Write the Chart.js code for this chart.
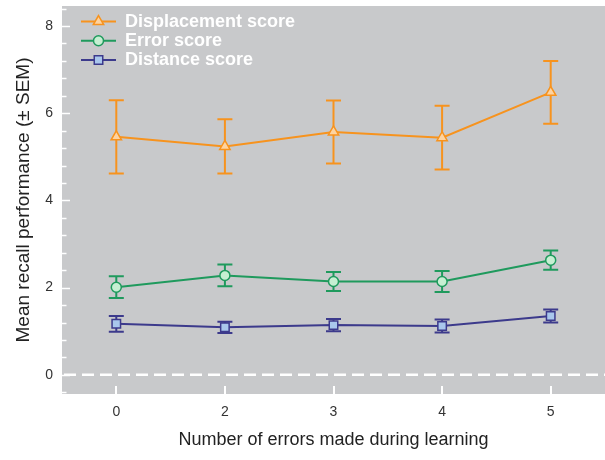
<!DOCTYPE html>
<html>
<head>
<meta charset="utf-8">
<script src="https://cdn.jsdelivr.net/npm/chart.js@4"></script>
<style>
  html, body { margin: 0; padding: 0; background: #ffffff; }
  #wrap { width: 605px; height: 460px; }
</style>
</head>
<body>
<div id="wrap"><canvas id="c" width="605" height="460"></canvas></div>
<script>
// Number of errors made during learning (x categories)
const categories = ['0', '2', '3', '4', '5'];

// Mean recall scores and their SEM per category
const displacement = [5.46, 5.24, 5.57, 5.44, 6.48];
const displacementSem = [0.84, 0.62, 0.72, 0.73, 0.72];
const errorScore = [2.01, 2.28, 2.14, 2.14, 2.63];
const errorSem = [0.25, 0.25, 0.22, 0.24, 0.22];
const distance = [1.17, 1.09, 1.14, 1.12, 1.35];
const distanceSem = [0.18, 0.13, 0.14, 0.15, 0.15];

// Labelled y ticks; unlabelled minor ticks sit every 0.4 in between
const yTickLabels = [0, 2, 4, 6, 8];
const yMinorStep = 0.4;

const FONT = "'Liberation Sans', Arial, Helvetica, sans-serif";
const PLOT_BG = '#c8c9cb';

const semByDataset = [displacementSem, errorSem, distanceSem];

// Grey panel, zero reference line and white inside ticks
const panelPlugin = {
  id: 'panel',
  beforeDraw(chart) {
    const { ctx, chartArea: a } = chart;
    ctx.save();
    ctx.fillStyle = PLOT_BG;
    ctx.fillRect(a.left, a.top, a.right - a.left, a.bottom - a.top);
    ctx.restore();
  },
  beforeDatasetsDraw(chart) {
    const { ctx, chartArea: a, scales } = chart;
    const y = scales.y, x = scales.x;
    ctx.save();
    ctx.strokeStyle = '#ffffff';
    // dashed zero line
    const y0 = y.getPixelForValue(0);
    ctx.lineWidth = 2.5;
    ctx.setLineDash([12, 6]);
    ctx.beginPath();
    ctx.moveTo(a.left + 2, y0);
    ctx.lineTo(a.right, y0);
    ctx.stroke();
    ctx.setLineDash([]);
    // y ticks (major and minor)
    ctx.lineWidth = 1.5;
    for (let k = -1; ; k++) {
      const v = Math.round(k * yMinorStep * 100) / 100;
      if (v > y.max) break;
      if (v < y.min) continue;
      const py = Math.round(y.getPixelForValue(v)) + 0.5;
      const major = yTickLabels.includes(v);
      ctx.beginPath();
      ctx.moveTo(a.left, py);
      ctx.lineTo(a.left + (major ? 8 : 4.5), py);
      ctx.stroke();
    }
    // x ticks
    ctx.lineWidth = 2;
    categories.forEach((c, i) => {
      const px = Math.round(x.getPixelForValue(i));
      ctx.beginPath();
      ctx.moveTo(px, a.bottom);
      ctx.lineTo(px, a.bottom - 8);
      ctx.stroke();
    });
    ctx.restore();
  }
};

// SEM whiskers drawn under each series
const errorBarPlugin = {
  id: 'errorBars',
  beforeDatasetsDraw(chart) {
    const { ctx, scales } = chart;
    const x = scales.x, y = scales.y;
    ctx.save();
    chart.data.datasets.forEach((ds, di) => {
      const sem = semByDataset[di];
      ctx.strokeStyle = ds.borderColor;
      ctx.lineWidth = 2;
      ds.data.forEach((v, i) => {
        const px = x.getPixelForValue(i);
        const top = y.getPixelForValue(v + sem[i]);
        const bot = y.getPixelForValue(v - sem[i]);
        ctx.beginPath();
        ctx.moveTo(px, top); ctx.lineTo(px, bot);
        ctx.moveTo(px - 7.5, top); ctx.lineTo(px + 7.5, top);
        ctx.moveTo(px - 7.5, bot); ctx.lineTo(px + 7.5, bot);
        ctx.stroke();
      });
    });
    ctx.restore();
  }
};

// Legend inside the panel: line sample with marker, bold white label
const legendPlugin = {
  id: 'insideLegend',
  afterDraw(chart) {
    const { ctx } = chart;
    const rows = [21.5, 40.8, 60];
    ctx.save();
    chart.data.datasets.forEach((ds, i) => {
      const yy = rows[i];
      ctx.strokeStyle = ds.borderColor;
      ctx.lineWidth = 2;
      ctx.beginPath();
      ctx.moveTo(81, yy);
      ctx.lineTo(116, yy);
      ctx.stroke();
      ctx.fillStyle = ds.pointBackgroundColor;
      ctx.strokeStyle = ds.pointBorderColor;
      ctx.lineWidth = ds.pointBorderWidth;
      Chart.helpers.drawPoint(ctx, {
        pointStyle: ds.pointStyle,
        radius: ds.pointRadius,
        rotation: 0,
        borderWidth: ds.pointBorderWidth
      }, 98.5, yy);
      ctx.fillStyle = '#ffffff';
      ctx.font = 'bold 18px ' + FONT;
      ctx.textAlign = 'left';
      ctx.textBaseline = 'middle';
      ctx.fillText(ds.label, 125, yy + 0.5);
    });
    ctx.restore();
  }
};

function series(label, data, line, fill, style, radius) {
  return {
    label, data,
    borderColor: line,
    borderWidth: 2,
    backgroundColor: fill,
    pointStyle: style,
    pointRadius: radius,
    pointHoverRadius: radius,
    pointBackgroundColor: fill,
    pointBorderColor: line,
    pointBorderWidth: 1.5,
    tension: 0,
    fill: false
  };
}

new Chart(document.getElementById('c'), {
  type: 'line',
  data: {
    labels: categories,
    datasets: [
      series('Displacement score', displacement, '#f7931e', '#fdd3a1', 'triangle', 6),
      series('Error score', errorScore, '#1f9a5d', '#c6efd2', 'circle', 5),
      series('Distance score', distance, '#3c3a8c', '#a9c7ec', 'rect', 6)
    ]
  },
  options: {
    responsive: false,
    animation: false,
    devicePixelRatio: 1,
    layout: { autoPadding: false, padding: { top: 6, right: 0, bottom: 0, left: 0 } },
    plugins: {
      legend: { display: false },
      tooltip: { enabled: false }
    },
    scales: {
      x: {
        type: 'category',
        offset: true,
        grid: { display: false, drawTicks: false },
        border: { display: false },
        ticks: { color: '#333333', font: { family: FONT, size: 14 }, padding: 10, maxRotation: 0 },
        title: {
          display: true,
          text: 'Number of errors made during learning',
          color: '#222222',
          font: { family: FONT, size: 18 },
          padding: { top: 0, bottom: 9 }
        },
        afterFit(s) {
          s.height = 66;
          s.paddingLeft = 0; s.paddingRight = 0;
        }
      },
      y: {
        type: 'linear',
        min: -0.44,
        max: 8.46,
        grid: { display: false, drawTicks: false },
        border: { display: false },
        afterBuildTicks(s) { s.ticks = yTickLabels.map(v => ({ value: v })); },
        ticks: { color: '#333333', font: { family: FONT, size: 14 }, padding: 9 },
        title: {
          display: true,
          text: 'Mean recall performance (± SEM)',
          color: '#222222',
          font: { family: FONT, size: 19 },
          padding: { top: 12, bottom: 0 }
        },
        afterFit(s) {
          s.width = 62;
          s.paddingTop = 0; s.paddingBottom = 0;
        }
      }
    }
  },
  plugins: [panelPlugin, errorBarPlugin, legendPlugin]
});
</script>
</body>
</html>
